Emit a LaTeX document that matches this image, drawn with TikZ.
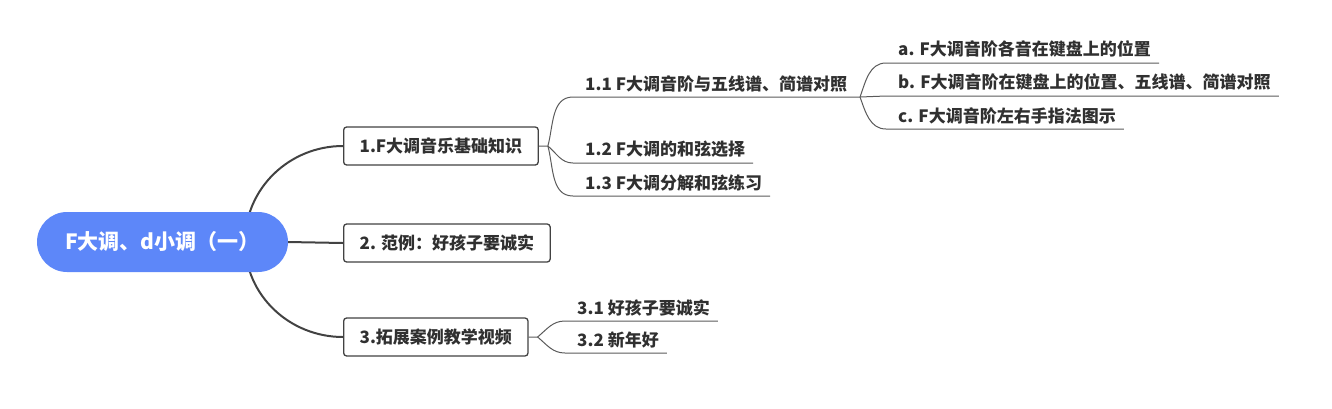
\documentclass[tikz,border=0pt]{standalone}
\usepackage{fontspec}
\setmainfont{Noto Sans CJK SC}
\usepackage{tikz}
\usetikzlibrary{positioning,backgrounds,calc}
\definecolor{rootbg}{HTML}{5D87F9}
\definecolor{ink}{HTML}{303030}
\definecolor{edge}{HTML}{424242}
\definecolor{twig}{HTML}{5A5A5A}

\begin{document}
\begin{tikzpicture}[x=1pt, y=1pt,
  font=\bfseries\fontsize{17}{20}\selectfont,
  root/.style={rectangle, rounded corners=30pt, fill=rootbg, text=white,
               minimum width=251pt, minimum height=60pt,
               font=\bfseries\fontsize{21}{24}\selectfont},
  topic/.style={rectangle, rounded corners=3pt, draw=edge, line width=1.3pt,
                fill=white, text=ink, inner xsep=16pt, minimum height=38pt, anchor=west},
  leaf/.style={anchor=south west, inner xsep=12pt, inner ysep=5pt, text=ink},
  main/.style={edge, line width=2pt},
  sub/.style={twig, line width=1pt}]

  \useasboundingbox (0,0) rectangle (1332,-408);

  \node[root] (root) at (162.5,-242) {F大调、d小调（一）};
  % first level
  \node[topic] (n1) at (343,-146) {1.F大调音乐基础知识};
  \node[topic] (n2) at (343,-243) {2. 范例：好孩子要诚实};
  \node[topic] (n3) at (343,-337) {3.拓展案例教学视频};
  % second level
  \node[leaf] (l11) at (573,-97) {1.1 F大调音阶与五线谱、简谱对照};
  \node[leaf] (l12) at (573,-163) {1.2 F大调的和弦选择};
  \node[leaf] (l13) at (573,-196) {1.3 F大调分解和弦练习};
  \node[leaf] (l31) at (565,-321) {3.1 好孩子要诚实};
  \node[leaf] (l32) at (565,-353) {3.2 新年好};
  % third level
  \node[leaf] (la) at (886,-63) {a. F大调音阶各音在键盘上的位置};
  \node[leaf] (lb) at (886,-96) {b. F大调音阶在键盘上的位置、五线谱、简谱对照};
  \node[leaf] (lc) at (886,-129) {c. F大调音阶左右手指法图示};

  \coordinate (hub) at (245,-242);
  \coordinate (s1) at ($(n1.east)+(9,0)$);
  \coordinate (s3) at ($(n3.east)+(9,0)$);
  \coordinate (k1) at (860,-97);

  \begin{scope}[on background layer]
    \draw[main] (hub) to[out=90,in=180] (n1.west);
    \draw[main] (root.east) -- (n2.west);
    \draw[main] (hub) to[out=-90,in=180] (n3.west);

    \draw[sub] (n1.east) -- (s1) to[out=75,in=180] (l11.south west) -- (k1);
    \draw[sub] (s1) to[out=-40,in=180] (l12.south west) -- ([xshift=-4pt]l12.south east);
    \draw[sub] (s1) to[out=-75,in=180] (l13.south west) -- ([xshift=-4pt]l13.south east);

    \draw[sub] (k1) to[out=70,in=180] (la.south west) -- ([xshift=-4pt]la.south east);
    \draw[sub] (k1) -- (lb.south west) -- ([xshift=-4pt]lb.south east);
    \draw[sub] (k1) to[out=-70,in=180] (lc.south west) -- ([xshift=-4pt]lc.south east);

    \draw[sub] (n3.east) -- (s3) to[out=40,in=180] (l31.south west) -- ([xshift=-4pt]l31.south east);
    \draw[sub] (s3) to[out=-40,in=180] (l32.south west) -- ([xshift=-4pt]l32.south east);
  \end{scope}
\end{tikzpicture}
\end{document}
